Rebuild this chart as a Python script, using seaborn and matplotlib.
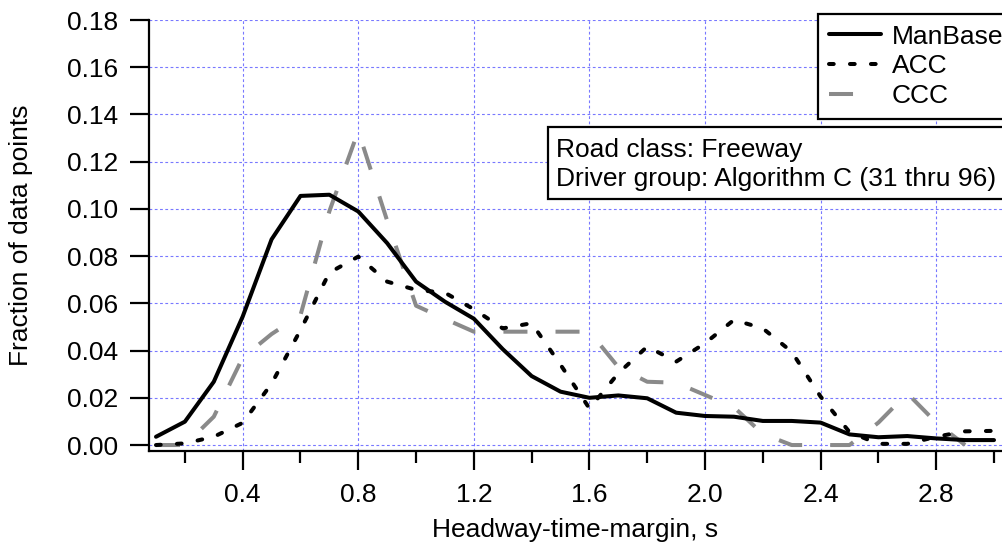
import matplotlib
matplotlib.use("Agg")
import matplotlib.pyplot as plt
import matplotlib.patches as mpatches
import matplotlib.ticker as mticker
import pandas as pd
import seaborn as sns

# Headway-time-margin bins (s)
HTM = [0.1, 0.2, 0.3, 0.4, 0.5, 0.6, 0.7, 0.8, 0.9, 1.0,
       1.1, 1.2, 1.3, 1.4, 1.5, 1.6, 1.7, 1.8, 1.9, 2.0,
       2.1, 2.2, 2.3, 2.4, 2.5, 2.6, 2.7, 2.8, 2.9, 3.0]

MANBASE = [0.0035, 0.0099, 0.0268, 0.0544, 0.0871, 0.1055, 0.1060, 0.0989, 0.0855, 0.0692,
           0.0607, 0.0535, 0.0406, 0.0292, 0.0226, 0.0200, 0.0210, 0.0198, 0.0137, 0.0123,
           0.0120, 0.0102, 0.0102, 0.0095, 0.0045, 0.0033, 0.0038, 0.0028, 0.0021, 0.0021]

ACC = [0.0000, 0.0007, 0.0035, 0.0094, 0.0260, 0.0487, 0.0730, 0.0798, 0.0692, 0.0657,
       0.0645, 0.0575, 0.0494, 0.0516, 0.0340, 0.0155, 0.0304, 0.0417, 0.0353, 0.0431,
       0.0530, 0.0494, 0.0395, 0.0205, 0.0055, 0.0005, 0.0005, 0.0035, 0.0058, 0.0060]

# CCC trace stops at 2.9 s
CCC = [0.0000, 0.0000, 0.0120, 0.0370, 0.0470, 0.0550, 0.0990, 0.1330, 0.0950, 0.0590,
       0.0534, 0.0480, 0.0480, 0.0480, 0.0480, 0.0480, 0.0330, 0.0268, 0.0264, 0.0212,
       0.0160, 0.0047, 0.0000, 0.0000, 0.0000, 0.0095, 0.0219, 0.0095, 0.0000]

Y_TICKS = [0.00, 0.02, 0.04, 0.06, 0.08, 0.10, 0.12, 0.14, 0.16, 0.18]
X_TICKS = [0.4, 0.8, 1.2, 1.6, 2.0, 2.4, 2.8]
NOTE_LINES = ["Road class: Freeway", "Driver group: Algorithm C (31 thru 96)"]

FONT = 19
GRAY = "#8a8a8a"
W, H = 1002, 549


def build_frame() -> pd.DataFrame:
    parts = [
        pd.DataFrame({"htm": HTM, "frac": MANBASE, "group": "ManBase"}),
        pd.DataFrame({"htm": HTM, "frac": ACC, "group": "ACC"}),
        pd.DataFrame({"htm": HTM[:len(CCC)], "frac": CCC, "group": "CCC"}),
    ]
    return pd.concat(parts, ignore_index=True)


def main() -> None:
    sns.set_theme(style="white")
    plt.rcParams["font.family"] = ["Liberation Sans", "DejaVu Sans"]
    plt.rcParams["lines.scale_dashes"] = False
    plt.rcParams["text.color"] = "black"
    plt.rcParams["axes.labelcolor"] = "black"
    plt.rcParams["xtick.color"] = "black"
    plt.rcParams["ytick.color"] = "black"

    df = build_frame()

    fig = plt.figure(figsize=(W / 100, H / 100), dpi=100)
    ax = fig.add_axes([149 / W, 1 - 450.7 / H, 853 / W, 430.7 / H])

    sns.lineplot(data=df[df["group"] == "ManBase"], x="htm", y="frac", ax=ax,
                 color="black", linewidth=2.9, label="ManBase", zorder=4)
    sns.lineplot(data=df[df["group"] == "ACC"], x="htm", y="frac", ax=ax,
                 color="black", linewidth=2.9, label="ACC", zorder=3,
                 dashes=(3.4, 11.7), dash_capstyle="round")
    sns.lineplot(data=df[df["group"] == "CCC"], x="htm", y="frac", ax=ax,
                 color=GRAY, linewidth=2.9, label="CCC", zorder=2,
                 dashes=(17.3, 20.2))

    ax.set_xlim(0.0758, 3.0277)
    ax.set_ylim(-0.0024, 0.18)
    ax.set_yticks(Y_TICKS)
    ax.yaxis.set_major_formatter(mticker.FormatStrFormatter("%.2f"))
    ax.set_xticks(X_TICKS)
    ax.xaxis.set_major_formatter(mticker.FormatStrFormatter("%.1f"))
    ax.xaxis.set_minor_locator(mticker.FixedLocator([0.2 + 0.4 * i for i in range(8)]))

    ax.grid(True, which="major", color="#7878ff", linestyle=(0, (2.0, 1.8)), linewidth=0.8)
    ax.set_axisbelow(True)

    for side in ("top", "right"):
        ax.spines[side].set_visible(False)
    for side in ("left", "bottom"):
        ax.spines[side].set_color("black")
        ax.spines[side].set_linewidth(1.6)

    ax.tick_params(axis="both", which="major", direction="out", length=13.5, width=1.6,
                   color="black", labelcolor="black", labelsize=FONT, pad=9,
                   bottom=True, left=True)
    ax.tick_params(axis="x", which="minor", direction="out", length=8.5, width=1.6,
                   color="black", bottom=True)
    ax.tick_params(axis="x", which="major", pad=10)

    ax.set_xlabel("Headway-time-margin, s", fontsize=FONT, labelpad=8)
    ax.set_ylabel("Fraction of data points", fontsize=FONT, labelpad=24)

    handles, labels = ax.get_legend_handles_labels()
    leg = ax.legend(handles, labels, loc="upper left",
                    bbox_to_anchor=(818 / W, 1 - 14 / H), bbox_transform=fig.transFigure,
                    borderaxespad=0, fontsize=FONT, frameon=True, fancybox=False, shadow=False,
                    framealpha=1, edgecolor="black", handlelength=1.97, handletextpad=0.42,
                    borderpad=0.4, labelspacing=0.22)
    leg.get_frame().set_linewidth(1.6)

    # note box, running off the right edge like the legend
    box = mpatches.Rectangle((548 / W, 1 - 199 / H), 470 / W, 72 / H,
                             transform=fig.transFigure, facecolor="white",
                             edgecolor="black", linewidth=1.6, zorder=5)
    fig.add_artist(box)
    for text, y_px in zip(NOTE_LINES, [150, 179]):
        fig.text(556.5 / W, 1 - y_px / H, text, ha="left", va="center",
                 fontsize=FONT, zorder=6)

    fig.savefig("out.png", dpi=100)
    plt.close(fig)


if __name__ == "__main__":
    main()
